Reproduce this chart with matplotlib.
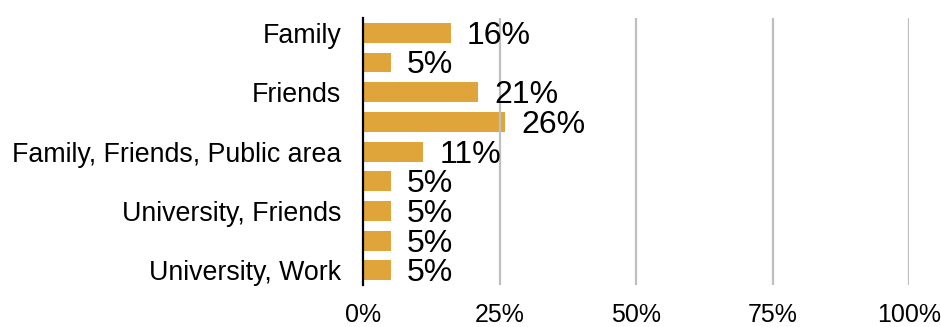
import matplotlib.pyplot as plt
from matplotlib.ticker import FuncFormatter

plt.rcParams['font.family'] = ['Liberation Sans', 'DejaVu Sans']

# Categories top to bottom; every second label is not printed on the axis
categories = ["Family", "", "Friends", "", "Family, Friends, Public area",
              "", "University, Friends", "", "University, Work"]
shares = [16, 5, 21, 26, 11, 5, 5, 5, 5]
x_ticks = [0, 25, 50, 75, 100]

bar_color = "#E0A53A"

fig = plt.figure(figsize=(9.41, 3.27), dpi=100)
ax = fig.add_axes([0.386, 0.128, 0.580, 0.817])

pos = list(range(len(shares)))
ax.barh(pos, shares, height=0.67, color=bar_color, zorder=1)

for p, v in zip(pos, shares):
    ax.text(v + 3.0, p + 0.1, f"{v}%", va="center", ha="left",
            fontsize=23, color="black", zorder=3)

ax.set_ylim(len(shares) - 0.5, -0.5)
ax.set_xlim(0, 100)
ax.set_yticks(pos)
ax.set_yticklabels(categories, fontsize=19.3)
ax.set_xticks(x_ticks)
ax.xaxis.set_major_formatter(FuncFormatter(lambda v, _: f"{int(v)}%"))
ax.tick_params(axis="x", length=0, pad=13, labelsize=18)
ax.tick_params(axis="y", length=0, pad=16)

for t in x_ticks[1:]:
    ax.axvline(t, color="#BFBFBF", linewidth=1.6, zorder=2)

for side in ["top", "right", "bottom"]:
    ax.spines[side].set_visible(False)
ax.spines["left"].set_linewidth(1.6)
ax.spines["left"].set_zorder(4)

fig.savefig("out.png", dpi=100)
